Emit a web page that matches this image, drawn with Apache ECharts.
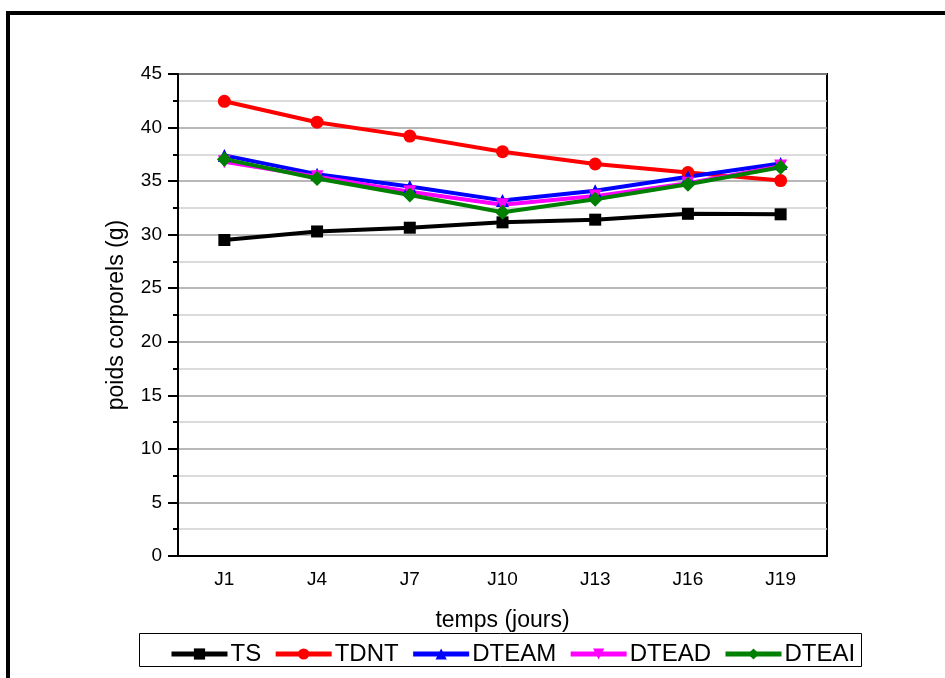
<!DOCTYPE html>
<html>
<head>
<meta charset="utf-8">
<style>
  html, body { margin: 0; padding: 0; background: #fff; }
  #main { width: 945px; height: 678px; }
</style>
</head>
<body>
<div id="main"></div>
<script src="https://cdn.jsdelivr.net/npm/echarts@6/dist/echarts.min.js"></script>
<script type="text/javascript">
    // données
    var jours = ['J1', 'J4', 'J7', 'J10', 'J13', 'J16', 'J19'];
    var TS    = [29.5, 30.3, 30.65, 31.15, 31.4, 31.95, 31.9];
    var TDNT  = [42.45, 40.5, 39.2, 37.75, 36.6, 35.8, 35.05];
    var DTEAM = [37.4, 35.65, 34.5, 33.2, 34.1, 35.4, 36.65];
    var DTEAD = [36.8, 35.4, 34.0, 32.8, 33.6, 34.8, 36.4];
    var DTEAI = [37.05, 35.25, 33.7, 32.1, 33.3, 34.7, 36.3];

    var police = 'Liberation Sans, Arial, sans-serif';
    var myChart = echarts.init(document.getElementById('main'));

    function serie(nom, data, couleur, symbole, taille) {
        return {
            name: nom,
            type: 'line',
            data: data,
            xAxisIndex: 0,
            symbol: symbole,
            symbolSize: taille,
            color: couleur,
            lineStyle: { width: 4, color: couleur },
            itemStyle: { color: couleur },
            emphasis: { disabled: true },
            animation: false
        };
    }

    var option = {
        backgroundColor: '#fff',
        textStyle: { fontFamily: police, color: '#000' },
        graphic: [
            {
                type: 'rect',
                z: -1,
                shape: { x: 8, y: 13, width: 1000, height: 700 },
                style: { fill: 'none', stroke: '#000', lineWidth: 4 }
            },
            {
                type: 'rect',
                shape: { x: 139.5, y: 633.5, width: 722, height: 33 },
                style: { fill: '#fff', stroke: '#000', lineWidth: 1 }
            }
        ],
        grid: {
            left: 178, right: 118, top: 74, bottom: 122,
            show: true, borderColor: '#000', borderWidth: 2
        },
        legend: {
            left: 164, top: 637,
            itemWidth: 56, itemHeight: 14, itemGap: 12,
            lineStyle: { width: 5 },
            textStyle: { fontFamily: police, fontSize: 24, color: '#000', padding: [0, 0, 0, -2] },
            data: ['TS', 'TDNT', 'DTEAM', 'DTEAD', 'DTEAI'],
            z: 10
        },
        xAxis: [
            {
                type: 'category',
                data: jours,
                boundaryGap: true,
                name: 'temps (jours)',
                nameLocation: 'middle',
                nameGap: 53,
                nameTextStyle: { fontSize: 23, color: '#000', fontFamily: police },
                axisLine: { lineStyle: { color: '#000', width: 2 } },
                axisTick: { alignWithLabel: true, length: 8, lineStyle: { color: '#000', width: 2 } },
                axisLabel: { fontSize: 19, color: '#000', margin: 14, fontFamily: police },
                splitLine: { show: false }
            },
            {
                type: 'category',
                data: jours,
                boundaryGap: true,
                position: 'bottom',
                axisLine: { show: false },
                axisTick: { interval: 0, length: 4, lineStyle: { color: '#000', width: 2 } },
                axisLabel: { show: false },
                splitLine: { show: false }
            }
        ],
        yAxis: {
            type: 'value',
            min: 0, max: 45, interval: 5,
            name: 'poids corporels (g)',
            nameLocation: 'middle',
            nameGap: 50,
            nameTextStyle: { fontSize: 23, color: '#000', fontFamily: police },
            axisLine: { show: true, lineStyle: { color: '#000', width: 2 } },
            axisTick: { show: true, length: 10, lineStyle: { color: '#000', width: 2 } },
            minorTick: { show: true, splitNumber: 2, length: 5, lineStyle: { color: '#000', width: 2 } },
            axisLabel: { fontSize: 19, color: '#000', margin: 16, fontFamily: police },
            splitLine: { show: true, lineStyle: { color: '#a0a0a0', width: 1.5 } },
            minorSplitLine: { show: true, lineStyle: { color: '#d0d0d0', width: 1.5 } }
        },
        series: [
            serie('TS', TS, '#000000', 'rect', 12),
            serie('TDNT', TDNT, '#ff0000', 'circle', 13),
            serie('DTEAM', DTEAM, '#0000ff', 'triangle', 13),
            serie('DTEAD', DTEAD, '#ff00ff', 'path://M0,0 L10,0 L5,9 Z', 13),
            serie('DTEAI', DTEAI, '#008000', 'diamond', 15)
        ]
    };

    myChart.setOption(option);
</script>
</body>
</html>
